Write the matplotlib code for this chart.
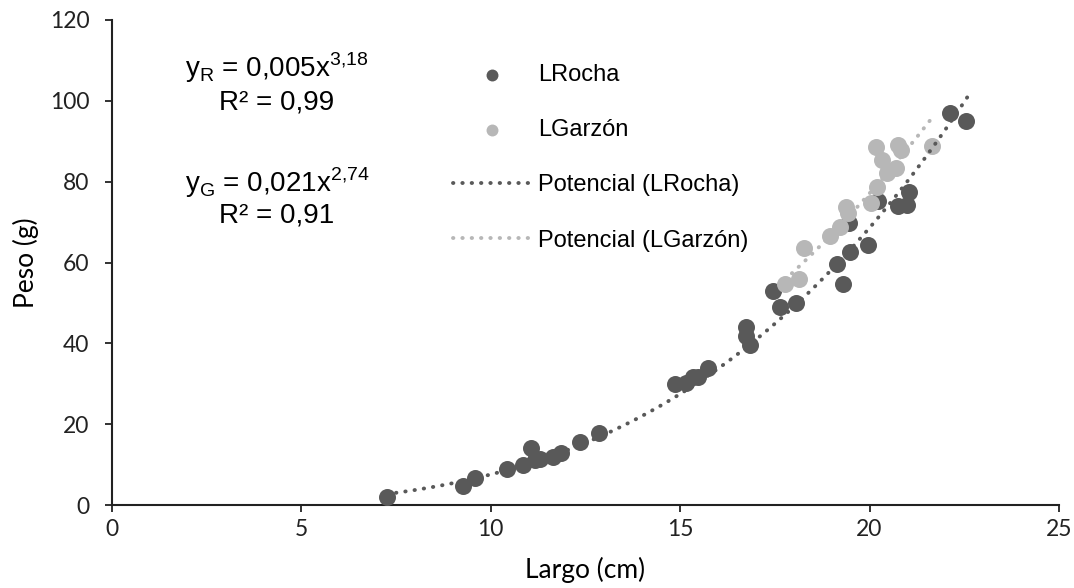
import numpy as np
import matplotlib
matplotlib.use("Agg")
import matplotlib.pyplot as plt

# LRocha data (Largo cm, Peso g)
rocha_x = [7.26, 9.27, 9.58, 10.42, 10.85, 11.06, 11.18, 11.3, 11.65, 11.86, 12.35, 12.85,
           14.86, 15.15, 15.35, 15.47, 15.74, 16.74, 16.75, 16.84, 17.46, 17.63, 18.05,
           19.13, 19.31, 19.48, 19.45, 19.97, 20.23, 20.76, 20.98, 21.05, 22.12, 22.54]
rocha_y = [2.0, 4.8, 6.8, 8.9, 9.9, 14.2, 11.2, 11.5, 11.8, 12.8, 15.7, 17.9,
           29.9, 30.1, 31.7, 31.7, 33.8, 44.1, 41.8, 39.6, 53.0, 48.9, 50.1,
           59.6, 54.7, 62.7, 69.8, 64.3, 75.3, 73.9, 74.3, 77.4, 96.9, 95.1]

# LGarzón data
garzon_x = [17.77, 18.14, 18.27, 18.95, 19.22, 19.39, 19.44, 20.05, 20.19, 20.34, 20.45,
            20.71, 20.16, 20.74, 20.82, 21.64]
garzon_y = [54.8, 56.0, 63.7, 66.6, 68.9, 73.8, 72.2, 74.7, 78.8, 85.4, 82.1,
            83.5, 88.7, 89.1, 87.8, 88.9]

# Power trendline coefficients (y = a * x^b)
rocha_a, rocha_b = 0.005, 3.18
garzon_a, garzon_b = 0.021, 2.74

x_ticks = [0, 5, 10, 15, 20, 25]
y_ticks = [0, 20, 40, 60, 80, 100, 120]

dark = "#595959"
light = "#b7b7b7"

fig = plt.figure(figsize=(10.74, 5.88), dpi=100)
ax = fig.add_axes([0.104, 0.141, 0.882, 0.825])

ax.scatter(rocha_x, rocha_y, s=150, color=dark, zorder=3, label="LRocha", linewidths=0)
ax.scatter(garzon_x, garzon_y, s=150, color=light, zorder=4, label="LGarzón", linewidths=0)

xr = np.linspace(min(rocha_x), 22.6, 200)
ax.plot(xr, rocha_a * xr ** rocha_b, color=dark, lw=2.8, linestyle=(0, (0.1, 2.3)),
        dash_capstyle="round", zorder=5, label="Potencial (LRocha)")
xg = np.linspace(min(garzon_x), max(garzon_x), 200)
ax.plot(xg, garzon_a * xg ** garzon_b, color=light, lw=2.8, linestyle=(0, (0.1, 2.3)),
        dash_capstyle="round", zorder=5, label="Potencial (LGarzón)")

ax.set_xlim(0, 25)
ax.set_ylim(0, 120)
ax.set_xticks(x_ticks)
ax.set_yticks(y_ticks)
tick_font = "Lato"
for lbl in ax.get_xticklabels() + ax.get_yticklabels():
    lbl.set_fontfamily(tick_font)
    lbl.set_fontsize(16.5)
    lbl.set_color("#222222")
ax.tick_params(direction="out", length=5, width=1.3, colors="#222222")
ax.tick_params(axis="y", pad=11)
ax.tick_params(axis="x", pad=5)
for s in ["top", "right"]:
    ax.spines[s].set_visible(False)
for s in ["left", "bottom"]:
    ax.spines[s].set_linewidth(1.5)
    ax.spines[s].set_color("#222222")

ax.set_xlabel("Largo (cm)", fontfamily=tick_font, fontsize=19, labelpad=12)
ax.set_ylabel("Peso (g)", fontfamily=tick_font, fontsize=19, labelpad=8)

eq_font = "Liberation Sans"
eq_size = 20
ax.text(4.36, 108.1, r"y$_\mathregular{R}$ = 0,005x$^\mathregular{3{,}18}$", ha="center",
        va="center", fontfamily=eq_font, fontsize=eq_size)
ax.text(4.36, 99.7, "R² = 0,99", ha="center", va="center", fontfamily=eq_font, fontsize=eq_size)
ax.text(4.36, 79.7, r"y$_\mathregular{G}$ = 0,021x$^\mathregular{2{,}74}$", ha="center",
        va="center", fontfamily=eq_font, fontsize=eq_size)
ax.text(4.36, 71.7, "R² = 0,91", ha="center", va="center", fontfamily=eq_font, fontsize=eq_size)

leg = ax.legend(loc="upper left", bbox_to_anchor=(0.35, 0.928), frameon=False,
                prop={"family": eq_font, "size": 17}, labelspacing=1.40,
                handlelength=3.3, handletextpad=0.3, markerscale=0.7, borderaxespad=0)

fig.savefig("out.png", dpi=100)
